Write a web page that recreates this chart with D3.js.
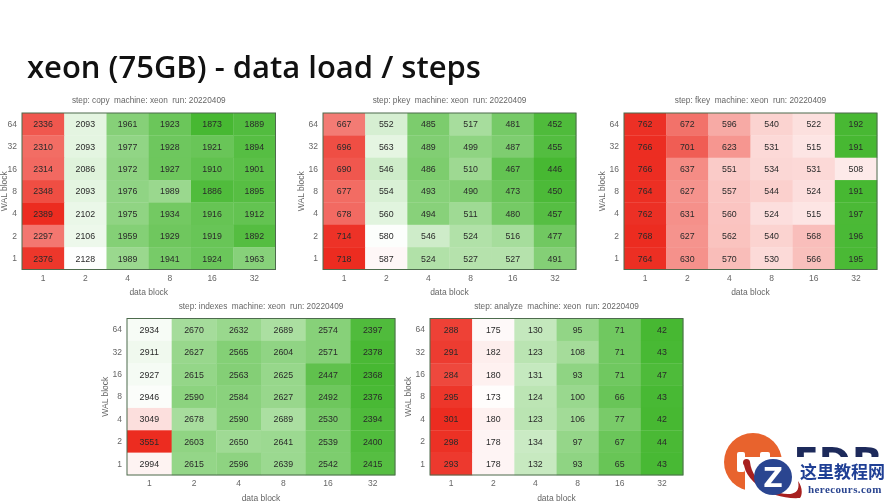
<!DOCTYPE html>
<html><head><meta charset="utf-8">
<script src="https://cdn.jsdelivr.net/npm/d3@7"></script>
<style>
html,body{margin:0;padding:0;background:#fff;width:890px;height:501px;overflow:hidden}
svg{display:block;filter:blur(0.7px)}
text{font-family:"Liberation Sans",Arial,sans-serif}
</style></head><body>
<svg id="c" width="890" height="501"></svg>
<script>
const dataBlocks = ["1","2","4","8","16","32"];
const walBlocks = ["64","32","16","8","4","2","1"];
const machine = "xeon";
const run = "20220409";
const titleText = "xeon (75GB) - data load / steps";
const copyValues = [
 [2336,2093,1961,1923,1873,1889],[2310,2093,1977,1928,1921,1894],[2314,2086,1972,1927,1910,1901],
 [2348,2093,1976,1989,1886,1895],[2389,2102,1975,1934,1916,1912],[2297,2106,1959,1929,1919,1892],
 [2376,2128,1989,1941,1924,1963]];
const pkeyValues = [
 [667,552,485,517,481,452],[696,563,489,499,487,455],[690,546,486,510,467,446],
 [677,554,493,490,473,450],[678,560,494,511,480,457],[714,580,546,524,516,477],
 [718,587,524,527,527,491]];
const fkeyValues = [
 [762,672,596,540,522,192],[766,701,623,531,515,191],[766,637,551,534,531,508],
 [764,627,557,544,524,191],[762,631,560,524,515,197],[768,627,562,540,568,196],
 [764,630,570,530,566,195]];
const indexesValues = [
 [2934,2670,2632,2689,2574,2397],[2911,2627,2565,2604,2571,2378],[2927,2615,2563,2625,2447,2368],
 [2946,2590,2584,2627,2492,2376],[3049,2678,2590,2689,2530,2394],[3551,2603,2650,2641,2539,2400],
 [2994,2615,2596,2639,2542,2415]];
const analyzeValues = [
 [288,175,130,95,71,42],[291,182,123,108,71,43],[284,180,131,93,71,47],
 [295,173,124,100,66,43],[301,180,123,106,77,42],[298,178,134,97,67,44],
 [293,178,132,93,65,43]];
const panels = [
 {step:"copy",values:copyValues,x0:22,x1:275.5,y0:113,y1:269.5},
 {step:"pkey",values:pkeyValues,x0:323,x1:576,y0:113,y1:269.5},
 {step:"fkey",values:fkeyValues,x0:624,x1:877,y0:113,y1:269.5},
 {step:"indexes",values:indexesValues,x0:127,x1:395,y0:318.5,y1:475},
 {step:"analyze",values:analyzeValues,x0:430,x1:683,y0:318.5,y1:475}
];
const svg = d3.select("#c");
svg.append("text").attr("x",27).attr("y",78).attr("font-size",31).attr("font-weight",600)
  .style("font-family","'Open Sans',sans-serif").attr("fill","#111").text(titleText);

panels.forEach(p=>{
  const g = svg.append("g");
  const x = d3.scaleBand().domain(dataBlocks).range([p.x0,p.x1]);
  const y = d3.scaleBand().domain(walBlocks).range([p.y0,p.y1]);
  const flat = p.values.flat();
  const lo = d3.min(flat), hi = d3.max(flat);
  const color = d3.scaleLinear().domain([lo,(lo+hi)/2,hi]).range(["#47b832","#ffffff","#ec2c20"]);
  walBlocks.forEach((w,r)=>dataBlocks.forEach((d,c)=>{
    const v = p.values[r][c];
    g.append("rect").attr("x",x(d)).attr("y",y(w)).attr("width",x.bandwidth()+0.3).attr("height",y.bandwidth()+0.3).attr("fill",color(v));
    g.append("text").attr("x",x(d)+x.bandwidth()/2).attr("y",y(w)+y.bandwidth()/2+3.2)
      .attr("text-anchor","middle").attr("font-size",8.8).attr("fill","#2a2a2a").text(v);
  }));
  g.append("rect").attr("x",p.x0).attr("y",p.y0).attr("width",p.x1-p.x0).attr("height",p.y1-p.y0)
    .attr("fill","none").attr("stroke","#4d6b4d").attr("stroke-width",1);
  const ax = g.append("g").attr("transform",`translate(0,${p.y1})`).call(d3.axisBottom(x).tickSize(0).tickPadding(5));
  const ay = g.append("g").attr("transform",`translate(${p.x0},0)`).call(d3.axisLeft(y).tickSize(0).tickPadding(5));
  [ax,ay].forEach(a=>{a.select(".domain").remove();
    a.selectAll("text").attr("font-size",8.5).attr("fill","#666").style("font-family","'Liberation Sans',Arial,sans-serif");});
  const mid=(p.x0+p.x1)/2;
  g.append("text").attr("x",mid).attr("y",p.y0-10).attr("text-anchor","middle").attr("font-size",8.25).attr("fill","#666")
    .attr("xml:space","preserve").text(`step: ${p.step}  machine: ${machine}  run: ${run}`);
  g.append("text").attr("x",mid).attr("y",p.y1+25.5).attr("text-anchor","middle").attr("font-size",8.5).attr("fill","#666").text("data block");
  g.append("text").attr("transform",`translate(${Math.max(p.x0-19,7)},${(p.y0+p.y1)/2}) rotate(-90)`).attr("text-anchor","middle")
    .attr("font-size",8.5).attr("fill","#666").text("WAL block");
});

// logo + watermark
const m = svg.append("g");
m.append("circle").attr("cx",753).attr("cy",462).attr("r",29).attr("fill","#e8632d");
m.append("text").attr("x",793).attr("y",479).attr("font-size",45).attr("font-weight",700).attr("fill","#1d2a5b")
  .style("font-family","'Open Sans',sans-serif").text("EDB");
m.append("rect").attr("x",745).attr("y",457).attr("width",145).attr("height",44).attr("fill","#fff");
m.append("rect").attr("x",737).attr("y",452).attr("width",8).attr("height",20).attr("rx",2).attr("fill","#fff");
m.append("rect").attr("x",760).attr("y",452).attr("width",10).attr("height",8).attr("rx",2).attr("fill","#fff");
m.append("path").attr("d","M744 461 C 742 478, 768 500, 800 498 C 803 494, 802 486, 798 481 C 800 490, 796 494, 788 494 C 770 494, 752 480, 750 462 Z").attr("fill","#a8201f");
m.append("circle").attr("cx",746.5).attr("cy",462.5).attr("r",3.5).attr("fill","#a8201f");
m.append("ellipse").attr("cx",773).attr("cy",477).attr("rx",19).attr("ry",18).attr("fill","#2a4590");
m.append("text").attr("x",773).attr("y",487).attr("text-anchor","middle").attr("font-size",27).attr("font-weight",700)
  .attr("fill","#fff").style("font-family","'DejaVu Sans',sans-serif").text("Z");
m.append("text").attr("x",800).attr("y",478).attr("font-size",17).attr("font-weight",700).attr("fill","#1f3f95")
  .style("font-family","'Noto Sans CJK SC',sans-serif").text("这里教程网");
m.append("text").attr("x",808).attr("y",492.5).attr("font-size",11).attr("font-weight",700).attr("fill","#2a4590")
  .attr("letter-spacing",0.4).style("font-family","'Liberation Serif',serif").text("herecours.com");
</script></body></html>
